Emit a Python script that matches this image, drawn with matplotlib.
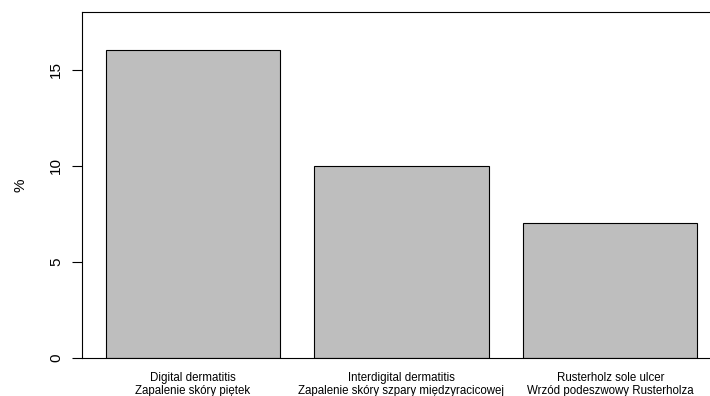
import matplotlib.pyplot as plt
import numpy as np

# data
labels_en = ['Digital dermatitis', 'Interdigital dermatitis', 'Rusterholz sole ulcer']
labels_pl = ['Zapalenie skóry piętek', 'Zapalenie skóry szpary międzyracicowej',
             'Wrzód podeszwowy Rusterholza']
percent = [16, 10, 7]

plt.rcParams['font.family'] = ['Liberation Sans', 'DejaVu Sans']

fig = plt.figure(figsize=(7.1, 3.96), dpi=100)
ax = fig.add_axes([82/710, 38/396, 639/710, 346/396])

# R-style barplot: width 1, space 0.2
x = 0.2 + np.arange(len(percent)) * 1.2 + 0.5
ax.bar(x, percent, width=1.0, color='#bebebe', edgecolor='black', linewidth=0.8)

ax.set_xlim(0.064, 3.736)
ax.set_ylim(0, 18)
ax.set_yticks([0, 5, 10, 15])
ax.set_yticklabels(['0', '5', '10', '15'], rotation=90, va='center', fontsize=11)
ax.tick_params(axis='y', length=7, width=0.8, pad=6.5)
ax.set_xticks(x)
ax.set_xticklabels([a + '\n' + b for a, b in zip(labels_en, labels_pl)], fontsize=8.3,
                   linespacing=1.15)
ax.tick_params(axis='x', length=0, pad=10)
for s in ax.spines.values():
    s.set_linewidth(0.8)
ax.set_ylabel('%', fontsize=11, labelpad=15.5)

fig.savefig('out.png', dpi=100)
